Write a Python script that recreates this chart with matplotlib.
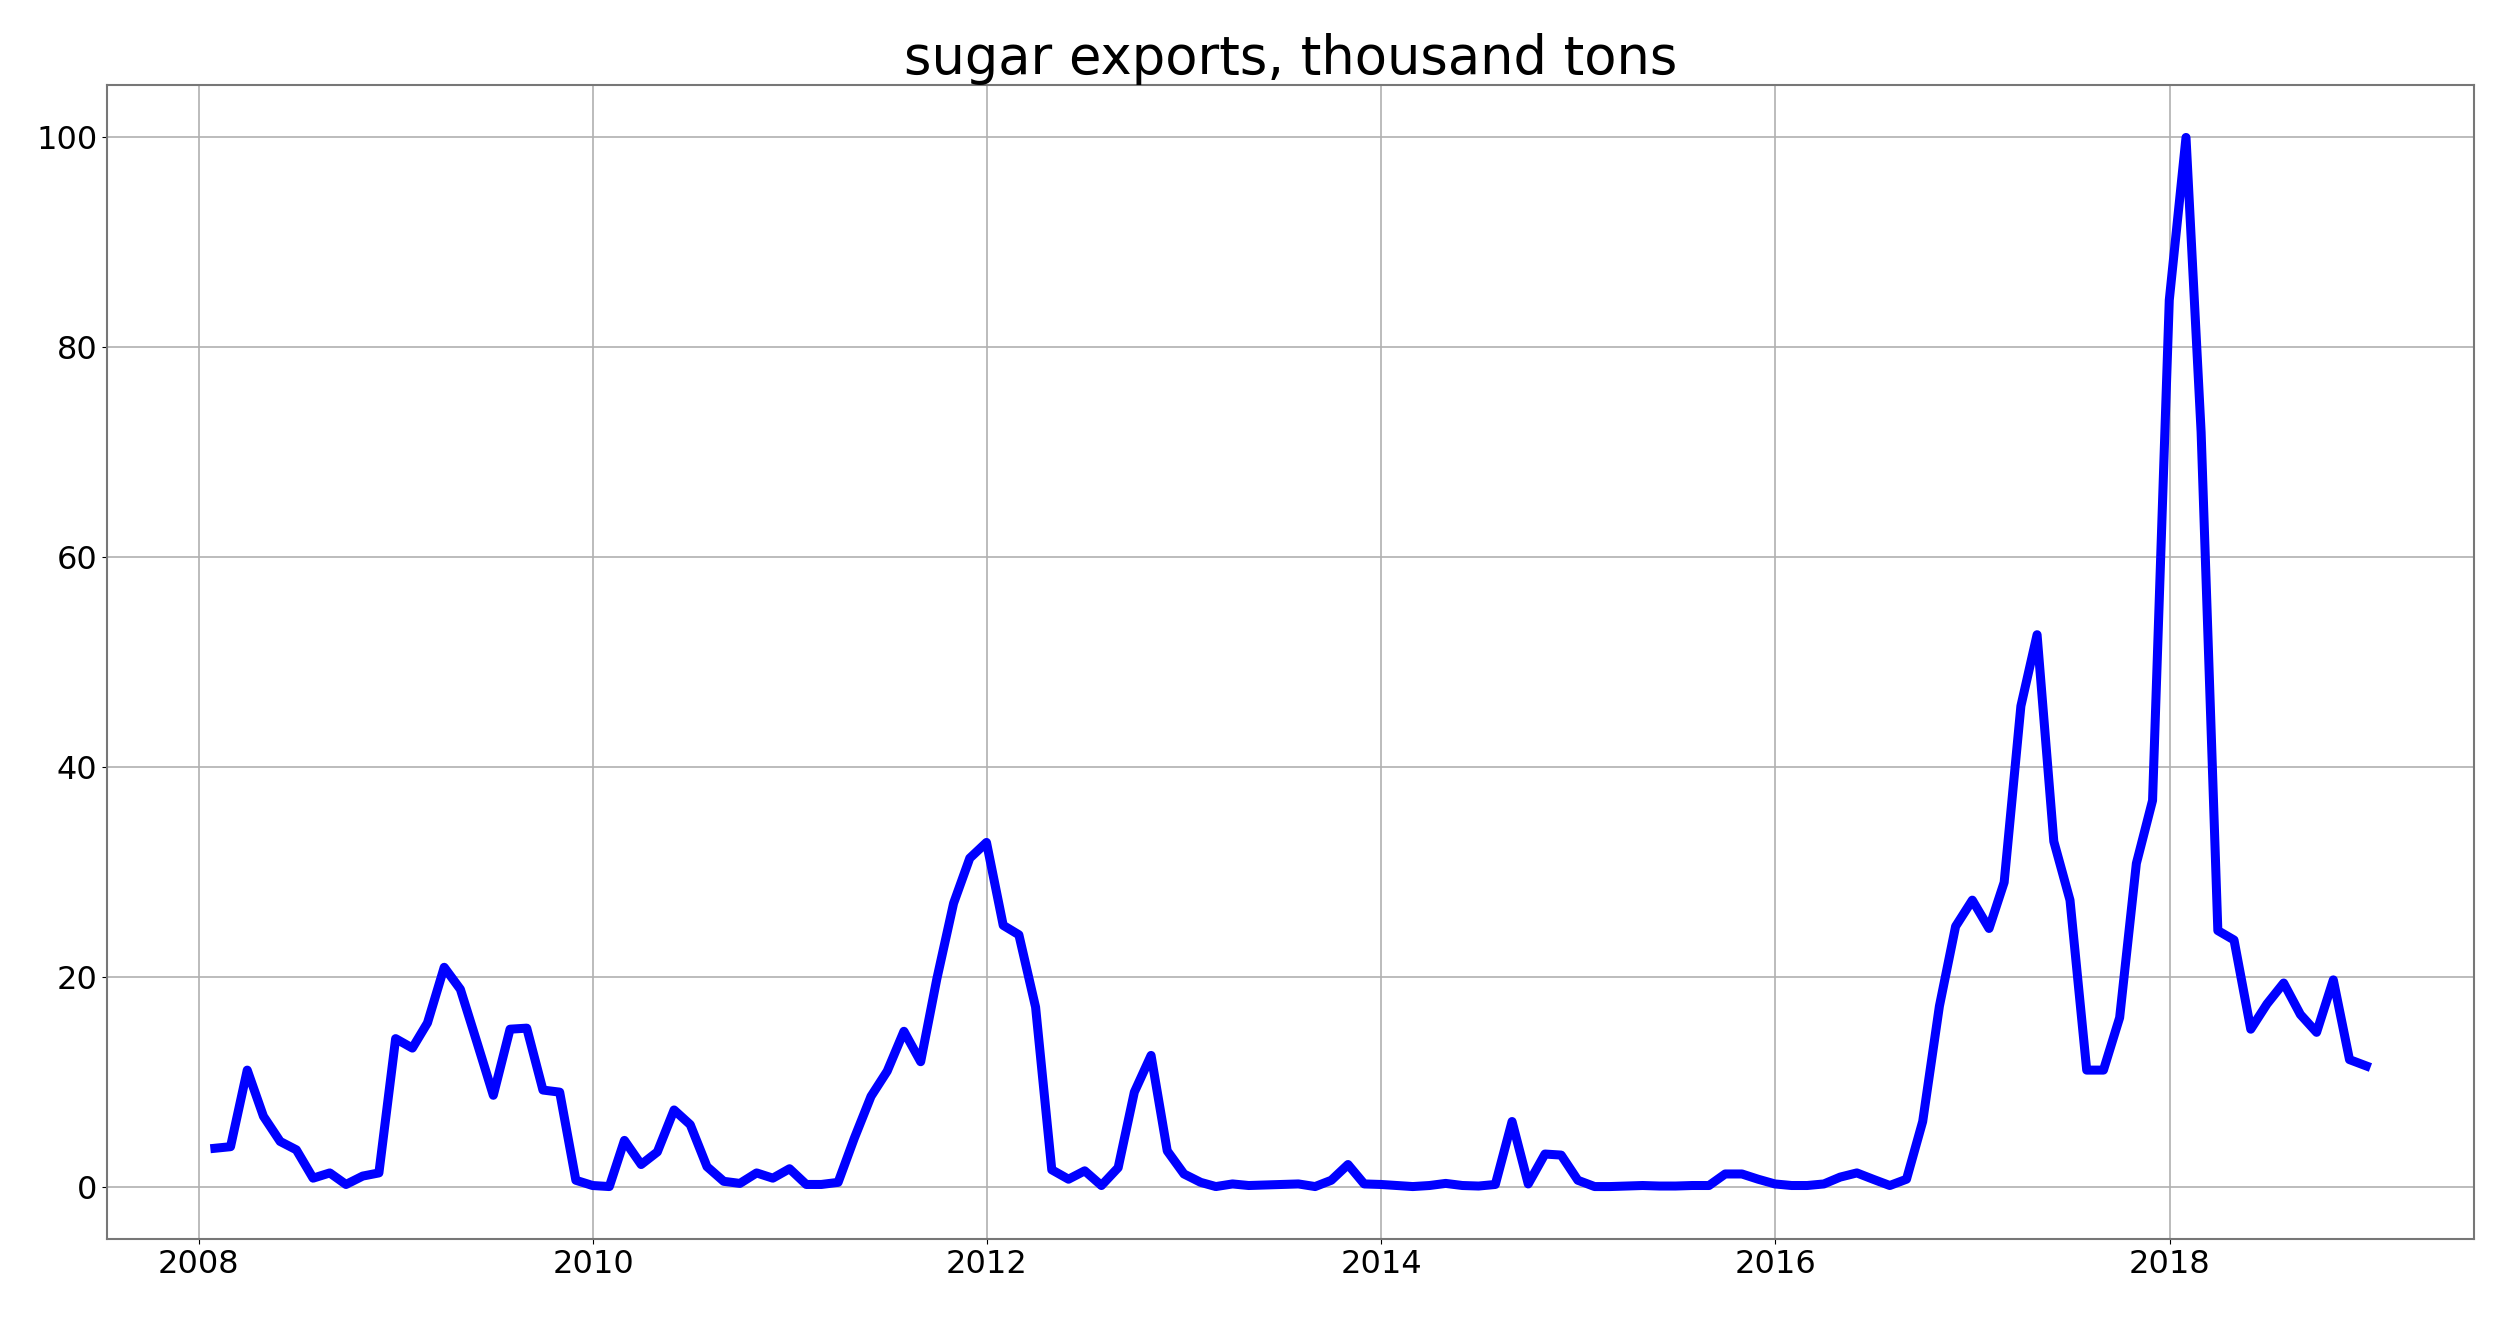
import numpy as np
import pandas as pd
import matplotlib
matplotlib.use("Agg")
import matplotlib.pyplot as plt
import matplotlib.dates as mdates

# monthly sugar exports, thousand tons (Jan 2008 - Dec 2018)
y2008 = [3.65, 3.8, 11.1, 6.7, 4.3, 3.5, 0.8, 1.3, 0.2, 1.0, 1.3, 14.1]
y2009 = [13.2, 15.6, 20.9, 18.8, 13.7, 8.7, 15.0, 15.1, 9.2, 9.0, 0.6, 0.1]
y2010 = [0.0, 4.4, 2.1, 3.3, 7.3, 5.9, 1.9, 0.5, 0.3, 1.3, 0.8, 1.7]
y2011 = [0.2, 0.2, 0.4, 4.6, 8.6, 11.0, 14.8, 11.9, 19.8, 27.0, 31.3, 32.8]
y2012 = [24.9, 24.0, 17.1, 1.6, 0.7, 1.5, 0.1, 1.8, 9.0, 12.5, 3.4, 1.2]
y2013 = [0.4, 0.0, 0.25, 0.1, 0.15, 0.2, 0.25, 0.0, 0.6, 2.1, 0.25, 0.2]
y2014 = [0.1, 0.0, 0.1, 0.3, 0.1, 0.05, 0.2, 6.2, 0.25, 3.1, 3.0, 0.6]
y2015 = [0.0, 0.0, 0.05, 0.1, 0.05, 0.05, 0.1, 0.1, 1.2, 1.2, 0.7, 0.25]
y2016 = [0.1, 0.1, 0.25, 0.9, 1.3, 0.7, 0.1, 0.7, 6.2, 17.2, 24.8, 27.3]
y2017 = [24.6, 29.0, 45.8, 52.6, 32.9, 27.3, 11.1, 11.1, 16.1, 30.8, 36.8, 84.5]
y2018 = [100.0, 71.9, 24.4, 23.5, 15.0, 17.4, 19.4, 16.4, 14.7, 19.7, 12.1, 11.5]

values = np.array(y2008 + y2009 + y2010 + y2011 + y2012 + y2013 +
                  y2014 + y2015 + y2016 + y2017 + y2018)
dates = pd.date_range("2008-01-01", periods=len(values), freq="MS") + pd.offsets.MonthEnd(0)

fig = plt.figure(figsize=(25.13, 13.26), dpi=100)
ax = fig.add_axes([0.0427, 0.0656, 0.9417, 0.8703])

ax.plot(dates, values, color="blue", linewidth=6.5)
ax.set_title("sugar exports, thousand tons", fontsize=38, pad=4)
ax.grid(True, color="#b0b0b0", linewidth=1.2)
ax.xaxis.set_major_locator(mdates.YearLocator(2))
ax.xaxis.set_major_formatter(mdates.DateFormatter("%Y"))
ax.tick_params(labelsize=23)
for s in ax.spines.values():
    s.set_color("#777777")
    s.set_linewidth(1.5)

fig.savefig("out.png", dpi=100)
